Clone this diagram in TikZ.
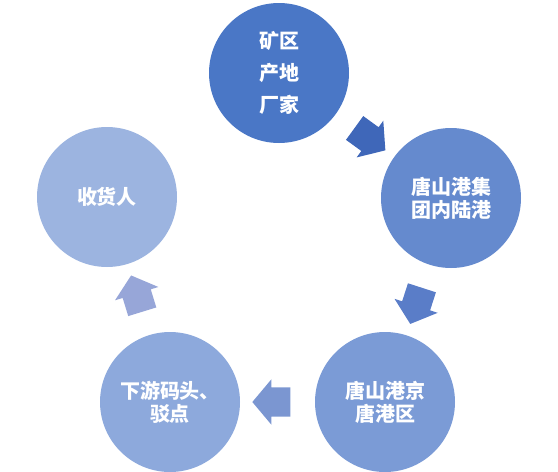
\documentclass[tikz,border=0pt]{standalone}
\usepackage{fontspec}
\newfontfamily\cjk{Noto Sans CJK SC}
\usetikzlibrary{shapes.arrows,calc}
\definecolor{c1}{HTML}{4A77C6}
\definecolor{c2}{HTML}{658ACE}
\definecolor{c3}{HTML}{7B9BD6}
\definecolor{c4}{HTML}{8DA9DC}
\definecolor{c5}{HTML}{9CB4E0}
\definecolor{a1}{HTML}{3F67B9}
\definecolor{a2}{HTML}{5A7DC8}
\definecolor{a3}{HTML}{7B96D1}
\definecolor{a4}{HTML}{97A6D8}
\begin{document}
\begin{tikzpicture}[x=1pt,y=-1pt]
\useasboundingbox (0,0) rectangle (558,472);
\tikzset{
  ball/.style={circle,minimum size=140pt,inner sep=0pt,text=white,align=center,
    font=\cjk\bfseries\fontsize{20}{23}\selectfont},
  blockarrow/.style={single arrow,minimum height=38pt,
    inner xsep=0pt,inner ysep=14.5pt,
    single arrow head extend=8pt,single arrow tip angle=100,
    sloped,allow upside down}
}
\node[ball,fill=c1,font=\cjk\bfseries\fontsize{20}{32}\selectfont] (n1) at (279,73) {矿区\\产地\\厂家};
\node[ball,fill=c2] (n2) at (451,198) {唐山港集\\团内陆港};
\node[ball,fill=c3] (n3) at (385,402) {唐山港京\\唐港区};
\node[ball,fill=c4] (n4) at (170,402) {下游码头、\\驳点};
\node[ball,fill=c5] (n5) at (107,197) {收货人};
\path (n1.center) -- node[blockarrow,fill=a1] (r1) {} (n2.center);
\path (n2.center) -- node[blockarrow,fill=a2] (r2) {} (n3.center);
\path (n3.center) -- node[blockarrow,fill=a3] (r3) {} (n4.center);
\path (n4.center) -- node[blockarrow,fill=a4] (r4) {} (n5.center);
\end{tikzpicture}
\end{document}
